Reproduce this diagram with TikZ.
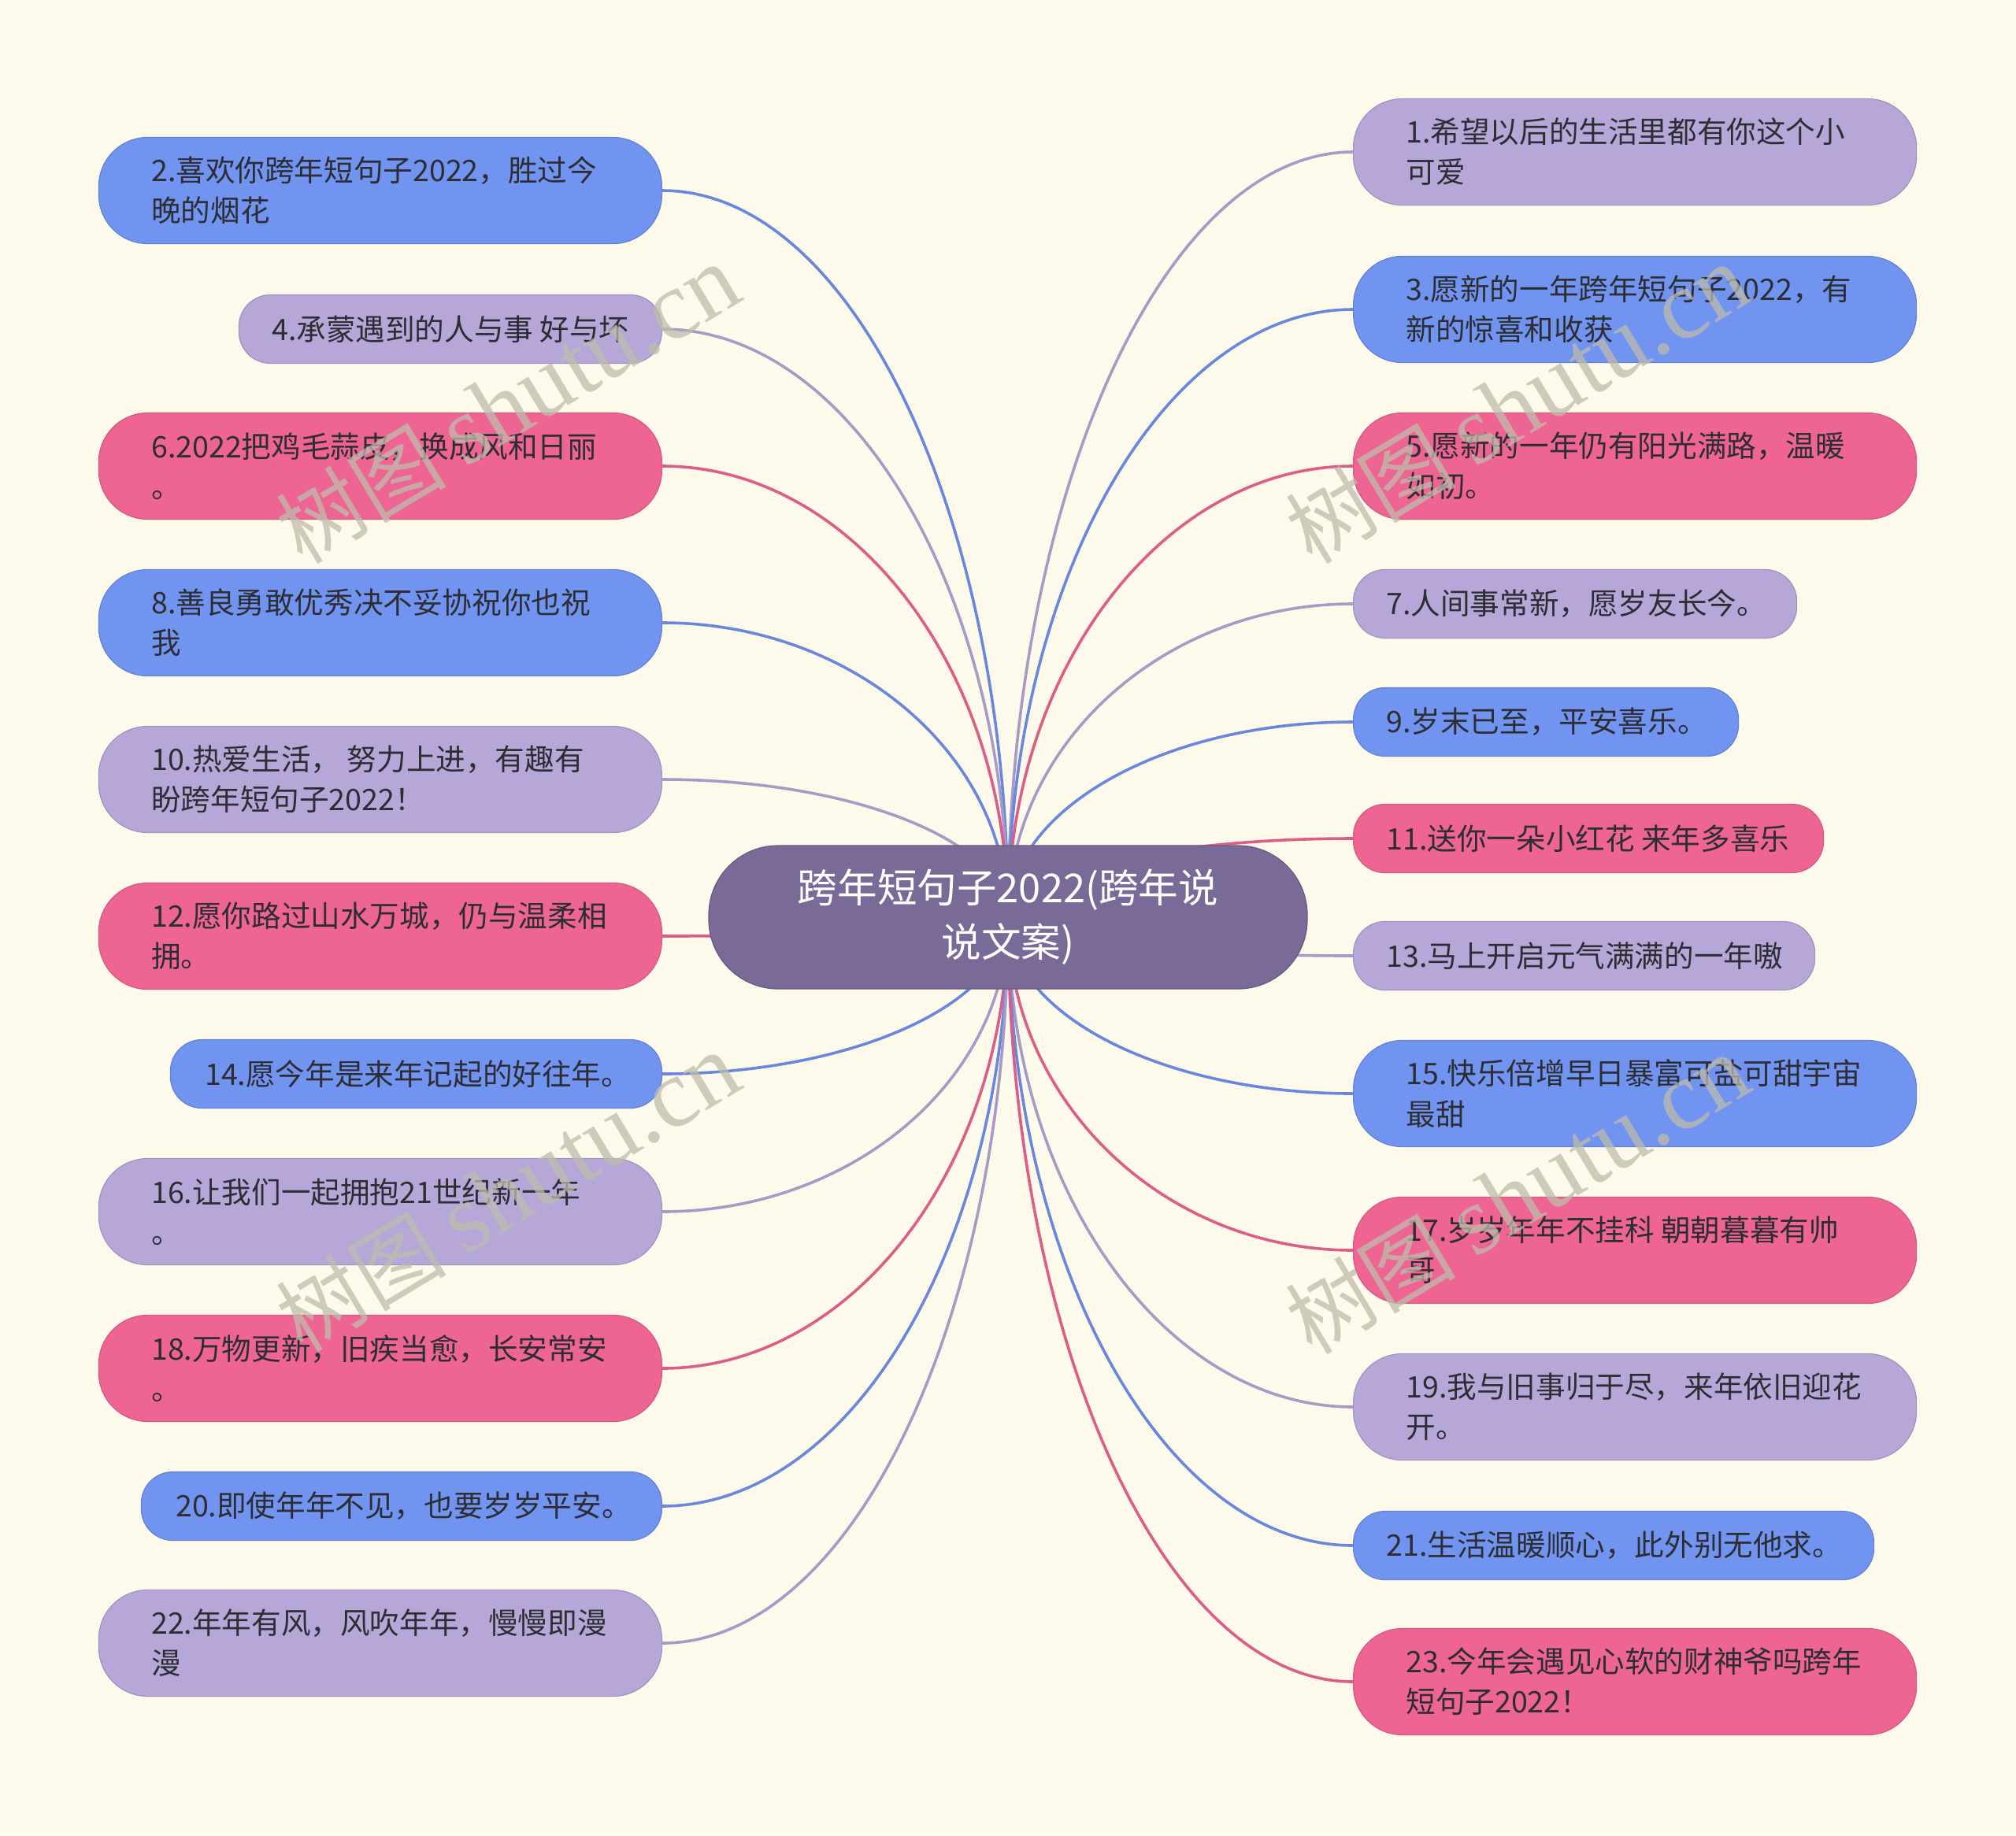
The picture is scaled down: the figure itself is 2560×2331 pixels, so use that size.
\documentclass[tikz,border=0pt]{standalone}
\usepackage{fontspec}
\setmainfont{Noto Sans CJK SC}
\newfontfamily\wmserif{Liberation Serif}
\usetikzlibrary{calc}
\definecolor{bgc}{RGB}{254,250,235}
\definecolor{cblue}{RGB}{113,148,240}
\definecolor{cpurple}{RGB}{182,167,216}
\definecolor{cpink}{RGB}{238,101,148}
\definecolor{ccenter}{RGB}{122,106,152}
\definecolor{ctext}{RGB}{45,45,52}
\definecolor{wm}{RGB}{190,188,172}
\pgfdeclarelayer{back}
\pgfdeclarelayer{links}
\pgfsetlayers{back,links,main}
\tikzset{
  leafbox/.style={draw=#1!88!black, fill=#1, line width=0.6pt, inner sep=0pt},
  leaftext/.style={text=ctext, align=left, inner sep=0pt, font=\fontsize{18.8pt}{25.5pt}\selectfont},
  link/.style={draw=#1!92!black, line width=1.8pt},
  wmark/.style={text=wm, opacity=0.75, inner sep=0pt, rotate=31, font=\fontsize{54pt}{54pt}\selectfont},
}
\newcommand\mleaf[8]{%
  \node[leafbox=#6, minimum width=#4*0.5pt, minimum height=#5*0.5pt, rounded corners=#5*0.23pt, anchor=#2] (#1) at (#3) {};
  \node[leaftext, anchor=west] (#1t) at ([xshift=#7]#1.west) {#8};
}
\begin{document}
\begin{tikzpicture}[x=0.5pt, y=-0.5pt]
\useasboundingbox (0,0) rectangle (2560,2331);
\begin{pgfonlayer}{back}
  \fill[bgc] (0,0) rectangle (2560,2331);
\end{pgfonlayer}

\node[fill=ccenter, draw=ccenter!85!black, line width=0.6pt, minimum width=380pt, minimum height=91pt,
  rounded corners=44pt, text=white, align=center, inner sep=0pt,
  font=\fontsize{25.3pt}{34.5pt}\selectfont] (c) at (1280,1165) {跨年短句子2022(跨年说\\说文案)};

% left side
\mleaf{n2}{east}{841,242}{715}{135}{cblue}{33.5pt}{2.喜欢你跨年短句子2022，胜过今\\晚的烟花}
\mleaf{n4}{east}{841,418}{537}{87}{cpurple}{21pt}{4.承蒙遇到的人与事 好与坏}
\mleaf{n6}{east}{841,592}{715}{135}{cpink}{33.5pt}{6.2022把鸡毛蒜皮，换成风和日丽\\。}
\mleaf{n8}{east}{841,791}{715}{135}{cblue}{33.5pt}{8.善良勇敢优秀决不妥协祝你也祝\\我}
\mleaf{n10}{east}{841,990}{715}{135}{cpurple}{33.5pt}{10.热爱生活， 努力上进，有趣有\\盼跨年短句子2022！}
\mleaf{n12}{east}{841,1189}{715}{135}{cpink}{33.5pt}{12.愿你路过山水万城，仍与温柔相\\拥。}
\mleaf{n14}{east}{841,1364}{624}{87}{cblue}{22pt}{14.愿今年是来年记起的好往年。}
\mleaf{n16}{east}{841,1539}{715}{135}{cpurple}{33.5pt}{16.让我们一起拥抱21世纪新一年\\。}
\mleaf{n18}{east}{841,1738}{715}{135}{cpink}{33.5pt}{18.万物更新，旧疾当愈，长安常安\\。}
\mleaf{n20}{east}{841,1913}{661}{87}{cblue}{22pt}{20.即使年年不见，也要岁岁平安。}
\mleaf{n22}{east}{841,2087}{715}{135}{cpurple}{33.5pt}{22.年年有风，风吹年年，慢慢即漫\\漫}

% right side
\mleaf{n1}{west}{1718,193}{715}{135}{cpurple}{33.5pt}{1.希望以后的生活里都有你这个小\\可爱}
\mleaf{n3}{west}{1718,393}{715}{135}{cblue}{33.5pt}{3.愿新的一年跨年短句子2022，有\\新的惊喜和收获}
\mleaf{n5}{west}{1718,592}{715}{135}{cpink}{33.5pt}{5.愿新的一年仍有阳光满路，温暖\\如初。}
\mleaf{n7}{west}{1718,767}{563}{87}{cpurple}{21pt}{7.人间事常新，愿岁友长今。}
\mleaf{n9}{west}{1718,917}{489}{87}{cblue}{21pt}{9.岁末已至，平安喜乐。}
\mleaf{n11}{west}{1718,1065}{597}{87}{cpink}{21pt}{11.送你一朵小红花 来年多喜乐}
\mleaf{n13}{west}{1718,1214}{586}{87}{cpurple}{21pt}{13.马上开启元气满满的一年嗷}
\mleaf{n15}{west}{1718,1389}{715}{135}{cblue}{33.5pt}{15.快乐倍增早日暴富可盐可甜宇宙\\最甜}
\mleaf{n17}{west}{1718,1588}{715}{135}{cpink}{33.5pt}{17.岁岁年年不挂科 朝朝暮暮有帅\\哥}
\mleaf{n19}{west}{1718,1787}{715}{135}{cpurple}{33.5pt}{19.我与旧事归于尽，来年依旧迎花\\开。}
\mleaf{n21}{west}{1718,1963}{661}{87}{cblue}{21pt}{21.生活温暖顺心，此外别无他求。}
\mleaf{n23}{west}{1718,2136}{715}{135}{cpink}{33.5pt}{23.今年会遇见心软的财神爷吗跨年\\短句子2022！}

\begin{pgfonlayer}{links}
  \foreach \n/\col in {n2/cblue,n4/cpurple,n6/cpink,n8/cblue,n10/cpurple,n12/cpink,n14/cblue,n16/cpurple,n18/cpink,n20/cblue,n22/cpurple}
    \draw[link=\col] (c.center) .. controls ($(c.center)!0.55!(c.center |- \n.east)$) and ($(\n.east)!0.55!(c.center |- \n.east)$) .. (\n.east);
  \foreach \n/\col in {n1/cpurple,n3/cblue,n5/cpink,n7/cpurple,n9/cblue,n11/cpink,n13/cpurple,n15/cblue,n17/cpink,n19/cpurple,n21/cblue,n23/cpink}
    \draw[link=\col] (c.center) .. controls ($(c.center)!0.55!(c.center |- \n.west)$) and ($(\n.west)!0.55!(c.center |- \n.west)$) .. (\n.west);
\end{pgfonlayer}

% watermarks
\node[wmark] (w1) at (645,514) {树图 {\wmserif\fontsize{62pt}{62pt}\selectfont shutu.cn}};
\node[wmark] (w2) at (1927,514) {树图 {\wmserif\fontsize{62pt}{62pt}\selectfont shutu.cn}};
\node[wmark] (w3) at (645,1515) {树图 {\wmserif\fontsize{62pt}{62pt}\selectfont shutu.cn}};
\node[wmark] (w4) at (1927,1518) {树图 {\wmserif\fontsize{62pt}{62pt}\selectfont shutu.cn}};
\end{tikzpicture}
\end{document}
